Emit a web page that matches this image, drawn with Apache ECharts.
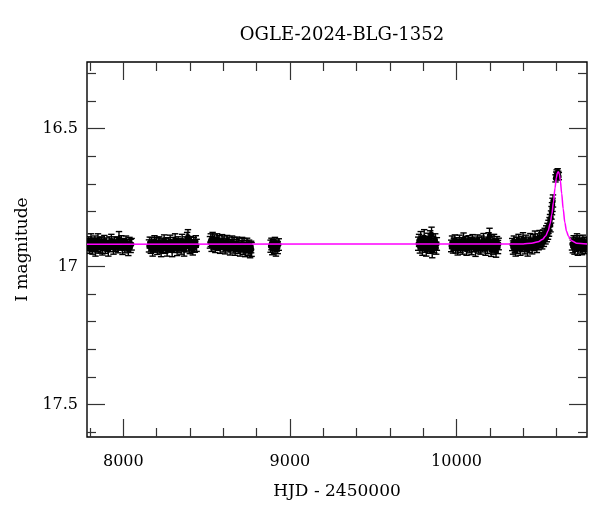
<!DOCTYPE html>
<html lang="en">
<head>
<meta charset="UTF-8">
<title>OGLE-2024-BLG-1352</title>
<script src="https://cdn.jsdelivr.net/npm/echarts@6.0.0/dist/echarts.min.js"></script>
<style>
  html, body { margin: 0; padding: 0; background: #fff; }
</style>
</head>
<body>
<div id="chart" style="width: 600px; height: 512px;"></div>
<script>
// observing seasons: [HJD - 2450000, I mag, error]
const season1 = [[7788,16.921,.021],[7793,16.912,.020],[7797,16.930,.022],[7801,16.917,.019],[7806,16.905,.024],[7810,16.926,.020],[7815,16.934,.021],[7819,16.914,.018],[7824,16.922,.022],[7829,16.909,.020],[7833,16.939,.023],[7838,16.918,.019],[7843,16.925,.021],[7848,16.903,.022],[7853,16.931,.020],[7858,16.916,.021],[7863,16.927,.024],[7869,16.911,.019],[7874,16.936,.022],[7880,16.920,.020],[7886,16.908,.021],[7892,16.929,.023],[7898,16.915,.019],[7904,16.924,.020],[7910,16.940,.022],[7916,16.913,.021],[7922,16.926,.020],[7928,16.906,.023],[7934,16.919,.019],[7941,16.933,.022],[7947,16.912,.020],[7954,16.924,.021],[7961,16.917,.023],[7968,16.930,.020],[7974,16.899,.026],[7981,16.921,.019],[7988,16.910,.022],[7995,16.935,.021],[8002,16.918,.020],[8009,16.927,.023],[8016,16.908,.019],[8023,16.922,.021],[8030,16.938,.022],[8037,16.914,.020],[8044,16.925,.024],[8050,16.919,.021]];
const season2 = [[8154,16.925,.022],[8159,16.913,.020],[8165,16.931,.021],[8170,16.918,.023],[8176,16.940,.022],[8181,16.922,.019],[8187,16.909,.021],[8192,16.928,.020],[8198,16.916,.022],[8204,16.935,.021],[8209,16.920,.024],[8215,16.911,.019],[8221,16.929,.022],[8227,16.943,.021],[8233,16.917,.020],[8239,16.926,.023],[8245,16.906,.021],[8251,16.932,.020],[8257,16.919,.022],[8263,16.938,.024],[8269,16.914,.019],[8275,16.927,.021],[8281,16.908,.022],[8287,16.924,.020],[8293,16.941,.023],[8299,16.915,.021],[8305,16.929,.020],[8311,16.903,.022],[8317,16.922,.021],[8323,16.936,.024],[8329,16.912,.020],[8335,16.926,.022],[8341,16.918,.019],[8347,16.934,.021],[8353,16.905,.022],[8359,16.923,.020],[8365,16.939,.023],[8371,16.913,.021],[8377,16.927,.020],[8383,16.900,.024],[8388,16.892,.026],[8393,16.921,.022],[8399,16.932,.021],[8405,16.911,.020],[8411,16.925,.023],[8417,16.937,.021],[8423,16.916,.022],[8429,16.928,.020],[8435,16.909,.021],[8440,16.923,.022]];
const season3 = [[8520,16.912,.021],[8525,16.904,.023],[8530,16.925,.020],[8536,16.898,.022],[8541,16.918,.021],[8547,16.909,.024],[8552,16.929,.020],[8558,16.915,.022],[8563,16.902,.021],[8569,16.922,.019],[8575,16.911,.023],[8581,16.931,.021],[8587,16.917,.020],[8593,16.906,.022],[8599,16.926,.021],[8605,16.913,.024],[8611,16.934,.020],[8617,16.919,.022],[8623,16.908,.021],[8629,16.928,.019],[8635,16.916,.023],[8641,16.937,.021],[8647,16.921,.020],[8653,16.911,.022],[8659,16.930,.021],[8665,16.918,.024],[8671,16.939,.020],[8677,16.923,.022],[8683,16.914,.021],[8689,16.933,.019],[8695,16.920,.023],[8701,16.941,.021],[8707,16.925,.020],[8713,16.916,.022],[8719,16.935,.021],[8725,16.922,.024],[8731,16.944,.020],[8737,16.927,.022],[8743,16.918,.021],[8749,16.936,.023],[8755,16.924,.020],[8761,16.946,.022],[8767,16.929,.021],[8770,16.938,.025]];
const season4 = [[8884,16.926,.022],[8889,16.918,.021],[8894,16.934,.023],[8899,16.922,.020],[8905,16.930,.022],[8910,16.915,.021],[8916,16.938,.024],[8921,16.924,.020],[8927,16.931,.022],[8933,16.920,.021]];
const season5 = [[9770,16.917,.024],[9775,16.905,.022],[9780,16.928,.023],[9785,16.898,.025],[9790,16.920,.022],[9795,16.935,.024],[9800,16.910,.021],[9806,16.893,.027],[9812,16.925,.023],[9818,16.940,.022],[9824,16.915,.024],[9830,16.902,.023],[9836,16.930,.022],[9842,16.896,.026],[9848,16.921,.023],[9850,16.883,.026],[9854,16.944,.024],[9860,16.912,.022],[9866,16.927,.023],[9872,16.905,.024],[9878,16.933,.022],[9882,16.918,.023]];
const season6 = [[9968,16.925,.021],[9973,16.912,.023],[9979,16.931,.020],[9984,16.919,.022],[9990,16.906,.021],[9995,16.927,.024],[10001,16.915,.020],[10007,16.936,.022],[10012,16.921,.021],[10018,16.909,.023],[10024,16.929,.020],[10030,16.917,.022],[10036,16.934,.021],[10042,16.902,.024],[10048,16.923,.020],[10054,16.913,.022],[10060,16.938,.021],[10066,16.920,.023],[10072,16.908,.020],[10078,16.928,.022],[10084,16.916,.021],[10090,16.933,.024],[10096,16.904,.020],[10102,16.924,.022],[10108,16.914,.021],[10114,16.940,.023],[10120,16.919,.020],[10126,16.907,.022],[10132,16.930,.021],[10138,16.918,.024],[10144,16.935,.020],[10150,16.911,.022],[10156,16.926,.021],[10162,16.903,.023],[10168,16.921,.020],[10174,16.937,.022],[10180,16.914,.021],[10186,16.928,.024],[10192,16.899,.022],[10198,16.887,.026],[10203,16.916,.023],[10208,16.941,.022],[10213,16.910,.021],[10219,16.931,.024],[10225,16.905,.022],[10231,16.924,.023],[10237,16.945,.021],[10243,16.913,.022],[10249,16.929,.024],[10253,16.918,.021]];
const season7 = [[10334,16.920,.022],[10339,16.931,.024],[10344,16.910,.021],[10350,16.926,.023],[10355,16.940,.022],[10361,16.915,.021],[10366,16.928,.024],[10372,16.905,.022],[10377,16.922,.021],[10383,16.936,.023],[10388,16.912,.022],[10394,16.925,.021],[10399,16.901,.024],[10405,16.918,.022],[10410,16.933,.021],[10416,16.909,.023],[10421,16.922,.022],[10427,16.938,.024],[10432,16.914,.021],[10438,16.927,.022],[10443,16.903,.023],[10449,16.919,.021],[10454,16.932,.022],[10460,16.908,.024],[10465,16.921,.021],[10471,16.896,.025],[10476,16.915,.022],[10482,16.928,.021],[10487,16.904,.023],[10493,16.917,.022],[10498,16.893,.024],[10504,16.910,.021],[10509,16.899,.023],[10514,16.914,.022],[10519,16.891,.024],
  [10524,16.905,.022],[10529,16.884,.023],[10534,16.896,.022],[10538,16.876,.024],[10542,16.888,.022],[10546,16.866,.023],[10549,16.879,.022],[10552,16.856,.024],[10555,16.868,.022],[10558,16.845,.023],[10561,16.833,.022],[10564,16.850,.024],[10567,16.820,.022],[10570,16.805,.023],[10573,16.790,.022],[10576,16.776,.024],[10579,16.762,.022],
  [10594,16.680,.013],[10598,16.669,.012],[10601,16.662,.013],[10604,16.674,.012],[10607,16.658,.013],[10610,16.666,.012],[10614,16.672,.013]];
const season8 = [[10693,16.918,.022],[10698,16.927,.023],[10703,16.909,.021],[10708,16.931,.024],[10713,16.915,.022],[10718,16.924,.021],[10723,16.904,.023],[10728,16.937,.022],[10733,16.920,.021],[10738,16.912,.024],[10743,16.929,.022],[10748,16.917,.021],[10753,16.934,.023],[10758,16.908,.022],[10763,16.925,.021],[10768,16.919,.024],[10773,16.931,.022],[10778,16.914,.021]];

// model curve
const modelHjd = [7782, 10400, 10450, 10490, 10515, 10535, 10550, 10562, 10572, 10582, 10591, 10599, 10605, 10611, 10617, 10623, 10631, 10640, 10650, 10660, 10672, 10690, 10720, 10783];
const modelMag = [16.919, 16.918, 16.915, 16.910, 16.902, 16.889, 16.870, 16.844, 16.810, 16.765, 16.715, 16.678, 16.661, 16.656, 16.664, 16.688, 16.735, 16.790, 16.840, 16.872, 16.890, 16.906, 16.915, 16.918];

// ticks
const xMajor = [8000, 9000, 10000];
const xMinor = [7800, 8200, 8400, 8600, 8800, 9200, 9400, 9600, 9800, 10200, 10400, 10600];
const yMajor = [16.5, 17, 17.5];
const yMinor = [16.3, 16.4, 16.6, 16.7, 16.8, 16.9, 17.1, 17.2, 17.3, 17.4, 17.6];

const X_MIN = 7782, X_MAX = 10783;
const Y_MIN = 16.258, Y_MAX = 17.618;
const FONT = 'DejaVu Serif';

const points = [].concat(season1, season2, season3, season4, season5, season6, season7, season8);
const model = modelHjd.map((t, i) => [t, modelMag[i]]);

const chart = echarts.init(document.getElementById('chart'));

function xAx(pos, ticks, len, labels) {
    return {
        type: 'value', position: pos, min: X_MIN, max: X_MAX,
        axisLine: { show: false },
        splitLine: { show: false },
        axisTick: { inside: true, length: len, customValues: ticks, lineStyle: { color: '#333', width: 1.2 } },
        axisLabel: labels ? {
            customValues: ticks, color: '#000', fontFamily: FONT, fontSize: 16, margin: 17,
            formatter: v => String(v)
        } : { show: false }
    };
}
function yAx(pos, ticks, len, labels) {
    return {
        type: 'value', position: pos, inverse: true, min: Y_MIN, max: Y_MAX,
        axisLine: { show: false },
        splitLine: { show: false },
        axisTick: { inside: true, length: len, customValues: ticks, lineStyle: { color: '#333', width: 1.2 } },
        axisLabel: labels ? { customValues: ticks, color: '#000', fontFamily: FONT, fontSize: 16, margin: 9 } : { show: false }
    };
}

const xAxes = [xAx('bottom', xMajor, 18, true), xAx('bottom', xMinor, 9), xAx('top', xMajor, 18), xAx('top', xMinor, 9)];
xAxes[0].name = 'HJD - 2450000';
xAxes[0].nameLocation = 'middle';
xAxes[0].nameGap = 46;
xAxes[0].nameTextStyle = { color: '#000', fontFamily: FONT, fontSize: 17 };

const yAxes = [yAx('left', yMajor, 18, true), yAx('left', yMinor, 9), yAx('right', yMajor, 18), yAx('right', yMinor, 9)];
yAxes[0].name = 'I magnitude';
yAxes[0].nameLocation = 'middle';
yAxes[0].nameGap = 56;
yAxes[0].nameRotate = 90;
yAxes[0].nameTextStyle = { color: '#000', fontFamily: FONT, fontSize: 17 };

function renderErr(params, api) {
    const t = api.value(0), m = api.value(1), e = api.value(2);
    const p = api.coord([t, m]);
    const hi = api.coord([t, m - e]);
    const lo = api.coord([t, m + e]);
    const w = 3.2;
    const st = { stroke: '#000', lineWidth: 1.4 };
    return {
        type: 'group',
        children: [
            { type: 'line', shape: { x1: p[0], y1: hi[1], x2: p[0], y2: lo[1] }, style: st },
            { type: 'line', shape: { x1: p[0] - w, y1: hi[1], x2: p[0] + w, y2: hi[1] }, style: st },
            { type: 'line', shape: { x1: p[0] - w, y1: lo[1], x2: p[0] + w, y2: lo[1] }, style: st },
            { type: 'circle', shape: { cx: p[0], cy: p[1], r: 2.7 }, style: { fill: '#000' } }
        ]
    };
}

chart.setOption({
    animation: false,
    backgroundColor: '#fff',
    title: {
        text: 'OGLE-2024-BLG-1352',
        left: 337, top: 21, textAlign: 'center',
        textStyle: { color: '#000', fontFamily: FONT, fontSize: 18, fontWeight: 'normal' }
    },
    grid: {
        left: 87, right: 13, top: 62, bottom: 75,
        containLabel: false,
        show: true, borderColor: '#000', borderWidth: 1.4, backgroundColor: '#fff'
    },
    xAxis: xAxes,
    yAxis: yAxes,
    series: [
        {
            type: 'custom',
            renderItem: renderErr,
            data: points,
            encode: { x: 0, y: 1 },
            clip: true,
            z: 2
        },
        {
            type: 'line',
            data: model,
            showSymbol: false,
            smooth: 0.3,
            smoothMonotone: 'x',
            lineStyle: { color: '#ff00ff', width: 1.5 },
            z: 3
        }
    ]
});
</script>
</body>
</html>
